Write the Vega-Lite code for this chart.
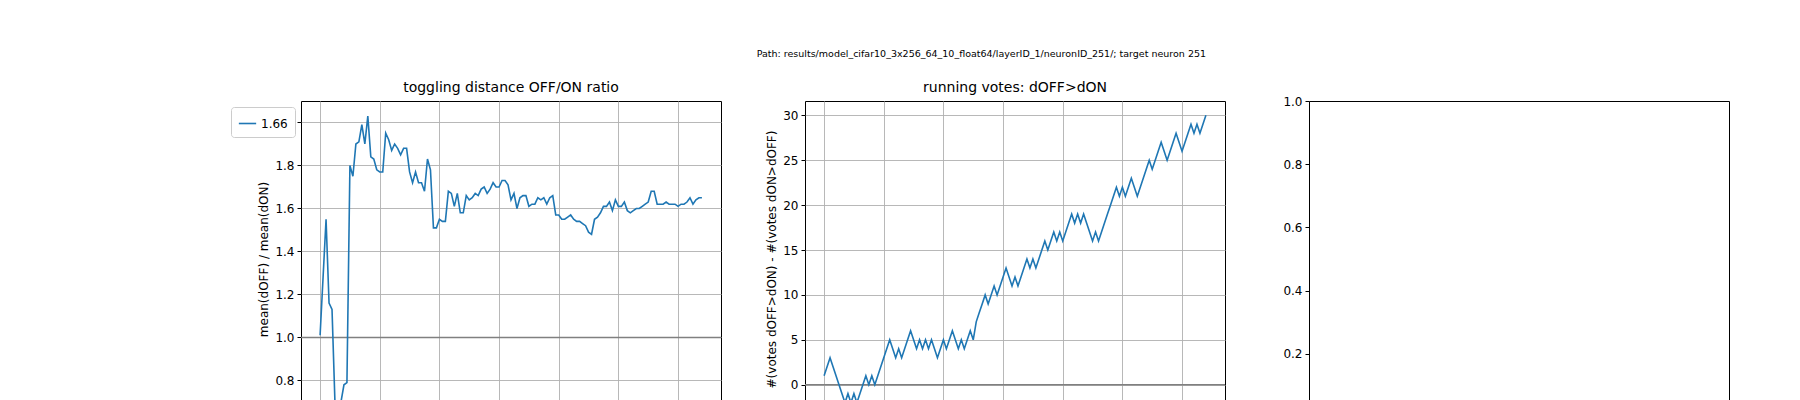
{
"$schema": "https://vega.github.io/schema/vega-lite/v6.json",
"padding": {"left": 230, "top": 49, "right": 10, "bottom": 10},
"background": "white",
"bounds": "flush",
"spacing": 84,
"title": {"text": "Path: results/model_cifar10_3x256_64_10_float64/layerID_1/neuronID_251/; target neuron 251", "fontSize": 9.5, "font": "DejaVu Sans", "fontWeight": "normal", "anchor": "middle", "offset": 22},
"config": {
  "font": "DejaVu Sans",
  "view": {"stroke": "black", "strokeWidth": 1},
  "axis": {"domain": false, "grid": true, "gridColor": "#b0b0b0", "gridWidth": 0.9, "tickColor": "black", "tickSize": 4, "labelFontSize": 12, "labelColor": "black", "titleFontSize": 12, "titleFontWeight": "normal", "titleColor": "black", "labelFont": "DejaVu Sans", "titleFont": "DejaVu Sans", "labelPadding": 3},
  "title": {"fontSize": 14, "fontWeight": "normal", "font": "DejaVu Sans", "offset": 6}
},
"datasets": {
"main": [
{"x":0,"r":1.01,"v":1},{"x":1,"r":1.28,"v":2},{"x":2,"r":1.55,"v":3},{"x":3,"r":1.16,"v":2},{"x":4,"r":1.13,"v":1},{"x":5,"r":0.69,"v":0},{"x":6,"r":0.68,"v":-1},{"x":7,"r":0.70,"v":-2},{"x":8,"r":0.78,"v":-1},{"x":9,"r":0.79,"v":-2},
{"x":10,"r":1.80,"v":-1},{"x":11,"r":1.75,"v":-2},{"x":12,"r":1.90,"v":-1},{"x":13,"r":1.91,"v":0},{"x":14,"r":1.99,"v":1},{"x":15,"r":1.90,"v":0},{"x":16,"r":2.03,"v":1},{"x":17,"r":1.84,"v":0},{"x":18,"r":1.83,"v":1},{"x":19,"r":1.78,"v":2},
{"x":20,"r":1.77,"v":3},{"x":21,"r":1.77,"v":4},{"x":22,"r":1.95,"v":5},{"x":23,"r":1.92,"v":4},{"x":24,"r":1.87,"v":3},{"x":25,"r":1.90,"v":4},{"x":26,"r":1.88,"v":3},{"x":27,"r":1.85,"v":4},{"x":28,"r":1.88,"v":5},{"x":29,"r":1.88,"v":6},
{"x":30,"r":1.77,"v":5},{"x":31,"r":1.72,"v":4},{"x":32,"r":1.77,"v":5},{"x":33,"r":1.72,"v":4},{"x":34,"r":1.72,"v":5},{"x":35,"r":1.68,"v":4},{"x":36,"r":1.83,"v":5},{"x":37,"r":1.78,"v":4},{"x":38,"r":1.51,"v":3},{"x":39,"r":1.51,"v":4},
{"x":40,"r":1.55,"v":5},{"x":41,"r":1.54,"v":4},{"x":42,"r":1.54,"v":5},{"x":43,"r":1.68,"v":6},{"x":44,"r":1.67,"v":5},{"x":45,"r":1.61,"v":4},{"x":46,"r":1.67,"v":5},{"x":47,"r":1.58,"v":4},{"x":48,"r":1.58,"v":5},{"x":49,"r":1.66,"v":6},
{"x":50,"r":1.64,"v":5},{"x":51,"r":1.65,"v":7},{"x":52,"r":1.67,"v":8},{"x":53,"r":1.66,"v":9},{"x":54,"r":1.69,"v":10},{"x":55,"r":1.70,"v":9},{"x":56,"r":1.67,"v":10},{"x":57,"r":1.69,"v":11},{"x":58,"r":1.72,"v":10},{"x":59,"r":1.70,"v":11},
{"x":60,"r":1.70,"v":12},{"x":61,"r":1.73,"v":13},{"x":62,"r":1.73,"v":12},{"x":63,"r":1.71,"v":11},{"x":64,"r":1.64,"v":12},{"x":65,"r":1.67,"v":11},{"x":66,"r":1.60,"v":12},{"x":67,"r":1.65,"v":13},{"x":68,"r":1.66,"v":14},{"x":69,"r":1.66,"v":13},
{"x":70,"r":1.61,"v":14},{"x":71,"r":1.62,"v":13},{"x":72,"r":1.62,"v":14},{"x":73,"r":1.65,"v":15},{"x":74,"r":1.64,"v":16},{"x":75,"r":1.65,"v":15},{"x":76,"r":1.62,"v":16},{"x":77,"r":1.65,"v":17},{"x":78,"r":1.66,"v":16},{"x":79,"r":1.57,"v":17},
{"x":80,"r":1.57,"v":16},{"x":81,"r":1.55,"v":17},{"x":82,"r":1.55,"v":18},{"x":83,"r":1.56,"v":19},{"x":84,"r":1.57,"v":18},{"x":85,"r":1.55,"v":19},{"x":86,"r":1.54,"v":18},{"x":87,"r":1.54,"v":19},{"x":88,"r":1.53,"v":18},{"x":89,"r":1.52,"v":17},
{"x":90,"r":1.49,"v":16},{"x":91,"r":1.48,"v":17},{"x":92,"r":1.55,"v":16},{"x":93,"r":1.56,"v":17},{"x":94,"r":1.58,"v":18},{"x":95,"r":1.61,"v":19},{"x":96,"r":1.61,"v":20},{"x":97,"r":1.63,"v":21},{"x":98,"r":1.59,"v":22},{"x":99,"r":1.64,"v":21},
{"x":100,"r":1.61,"v":22},{"x":101,"r":1.61,"v":21},{"x":102,"r":1.63,"v":22},{"x":103,"r":1.59,"v":23},{"x":104,"r":1.58,"v":22},{"x":105,"r":1.59,"v":21},{"x":106,"r":1.60,"v":22},{"x":107,"r":1.60,"v":23},{"x":108,"r":1.61,"v":24},{"x":109,"r":1.62,"v":25},
{"x":110,"r":1.63,"v":24},{"x":111,"r":1.68,"v":25},{"x":112,"r":1.68,"v":26},{"x":113,"r":1.62,"v":27},{"x":114,"r":1.62,"v":26},{"x":115,"r":1.62,"v":25},{"x":116,"r":1.63,"v":26},{"x":117,"r":1.62,"v":27},{"x":118,"r":1.62,"v":28},{"x":119,"r":1.62,"v":27},
{"x":120,"r":1.61,"v":26},{"x":121,"r":1.62,"v":27},{"x":122,"r":1.62,"v":28},{"x":123,"r":1.63,"v":29},{"x":124,"r":1.65,"v":28},{"x":125,"r":1.62,"v":29},{"x":126,"r":1.64,"v":28},{"x":127,"r":1.65,"v":29},{"x":128,"r":1.65,"v":30}
],
"refs": [{"r": 1.0, "v": 0}],
"empty": [{"a": 0}, {"a": 1}]
},
"hconcat": [
{
  "width": 420, "height": 316,
  "title": "toggling distance OFF/ON ratio",
  "layer": [
    {"data": {"name": "refs"}, "mark": {"type": "rule", "color": "gray", "strokeWidth": 1.5}, "encoding": {"y": {"field": "r", "type": "quantitative", "scale": {"domain": [0.63, 2.10], "nice": false, "zero": false}}}},
    {"data": {"name": "main"}, "mark": {"type": "line", "strokeWidth": 1.6, "clip": true},
     "encoding": {
       "x": {"field": "x", "type": "quantitative", "scale": {"domain": [-6.4, 134.4], "nice": false, "zero": false}, "axis": {"values": [0,20,40,60,80,100,120], "title": "dual point number"}},
       "y": {"field": "r", "type": "quantitative", "scale": {"domain": [0.63, 2.10], "nice": false, "zero": false}, "axis": {"values": [0.8,1.0,1.2,1.4,1.6,1.8,2.0], "format": ".1f", "title": "mean(dOFF) / mean(dON)"}},
       "color": {"datum": "1.66", "scale": {"range": ["#1f77b4"]}, "legend": {"title": null, "orient": "top-right", "symbolType": "stroke", "symbolStrokeWidth": 1.6, "symbolSize": 300, "labelFontSize": 12, "strokeColor": "#cccccc", "fillColor": "white", "padding": 7, "cornerRadius": 3, "offset": 6, "labelFont": "DejaVu Sans"}}
     }}
  ]
},
{
  "width": 420, "height": 316,
  "title": "running votes: dOFF>dON",
  "layer": [
    {"data": {"name": "refs"}, "mark": {"type": "rule", "color": "gray", "strokeWidth": 1.5}, "encoding": {"y": {"field": "v", "type": "quantitative", "scale": {"domain": [-3.6, 31.6], "nice": false, "zero": false}}}},
    {"data": {"name": "main"}, "mark": {"type": "line", "strokeWidth": 1.6, "color": "#1f77b4", "clip": true},
     "encoding": {
       "x": {"field": "x", "type": "quantitative", "scale": {"domain": [-6.4, 134.4], "nice": false, "zero": false}, "axis": {"values": [0,20,40,60,80,100,120], "title": "dual point number"}},
       "y": {"field": "v", "type": "quantitative", "scale": {"domain": [-3.6, 31.6], "nice": false, "zero": false}, "axis": {"values": [0,5,10,15,20,25,30], "title": "#(votes dOFF>dON) - #(votes dON>dOFF)"}}
     }}
  ]
},
{
  "width": 420, "height": 316,
  "data": {"name": "empty"},
  "mark": {"type": "point", "opacity": 0},
  "encoding": {
    "x": {"field": "a", "type": "quantitative", "scale": {"domain": [0, 1], "nice": false}, "axis": {"grid": false, "values": [0,0.2,0.4,0.6,0.8,1.0], "format": ".1f", "title": null}},
    "y": {"field": "a", "type": "quantitative", "scale": {"domain": [0, 1], "nice": false}, "axis": {"grid": false, "values": [0,0.2,0.4,0.6,0.8,1.0], "format": ".1f", "title": null}}
  }
}
]
}
